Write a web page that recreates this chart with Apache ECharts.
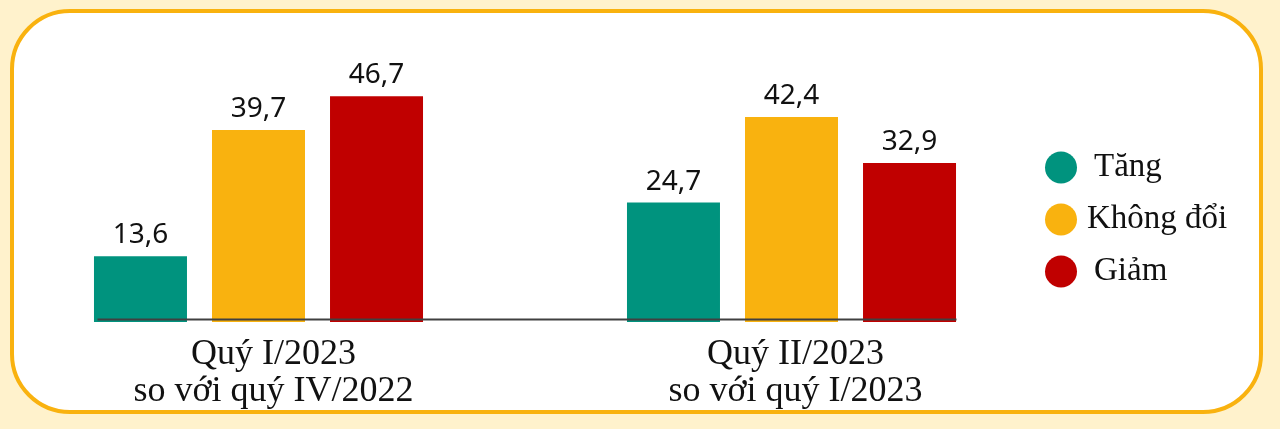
<!DOCTYPE html>
<html>
<head>
<meta charset="utf-8">
<script src="https://cdn.jsdelivr.net/npm/echarts@6/dist/echarts.min.js"></script>
<style>
html,body{margin:0;padding:0;background:#FFF2CC;}
#chart{width:1280px;height:429px;}
</style>
</head>
<body>
<div id="chart"></div>
<script>
const categories = ['Quý I/2023\nso với quý IV/2022', 'Quý II/2023\nso với quý I/2023'];
const seriesNames = ['Tăng', 'Không đổi', 'Giảm'];
const tangValues = [13.6, 24.7];
const khongDoiValues = [39.7, 42.4];
const giamValues = [46.7, 32.9];
const colors = ['#00937E', '#F9B20F', '#C00000'];

const chart = echarts.init(document.getElementById('chart'));
const labelStyle = {
  show: true, position: 'top', distance: 7,
  fontFamily: 'Noto Sans', fontSize: 28, color: '#111',
  formatter: p => String(p.value).replace('.', ',')
};
const seriesData = [tangValues, khongDoiValues, giamValues];
const frame = {
  type: 'rect', z: -10,
  shape: {x: 12, y: 11, width: 1249, height: 401, r: 58},
  style: {fill: '#FFFFFF', stroke: '#F9B20F', lineWidth: 4}
};
const legendPads = [11, 4, 11];
const option = {
  backgroundColor: '#FFF2CC',
  animation: false,
  graphic: [frame],
  legend: {
    orient: 'vertical', left: 1045, top: 151, padding: 0,
    icon: 'circle', itemWidth: 34, itemHeight: 32, itemGap: 19,
    textStyle: {fontFamily: 'Liberation Serif', fontSize: 33, color: '#111'},
    data: seriesNames.map((n, i) => ({name: n, textStyle: {padding: [0, 0, 0, legendPads[i]]}}))
  },
  grid: {left: 258.5, right: 488.5, top: 32, bottom: 107, containLabel: false},
  xAxis: {
    type: 'category', boundaryGap: false,
    data: [
      {value: categories[0], textStyle: {padding: [0, 0, 0, 30]}},
      {value: categories[1], textStyle: {padding: [0, 0, 0, 8]}}
    ],
    axisLine: {show: false}, axisTick: {show: false},
    axisLabel: {fontFamily: 'Liberation Serif', fontSize: 36, lineHeight: 37, color: '#111', margin: 14}
  },
  yAxis: {type: 'value', min: 0, max: 60, show: false, splitLine: {show: false}},
  series: seriesNames.map((name, i) => ({
    name, type: 'bar', data: seriesData[i], clip: false,
    barWidth: 93, barGap: '26.9%',
    itemStyle: {color: colors[i]},
    label: labelStyle
  })),
  color: colors
};
chart.setOption(option);
// baseline axis line spanning the bars
const c0 = chart.convertToPixel({xAxisIndex: 0}, categories[0]);
const c1 = chart.convertToPixel({xAxisIndex: 0}, categories[1]);
const y0 = chart.convertToPixel({yAxisIndex: 0}, 0);
chart.setOption({
  graphic: [frame, {
    type: 'line', z: 100,
    shape: {x1: c0 - 161, y1: y0 - 2.5, x2: c1 + 165, y2: y0 - 2.5},
    style: {stroke: '#404040', lineWidth: 2}
  }]
});
</script>
</body>
</html>
